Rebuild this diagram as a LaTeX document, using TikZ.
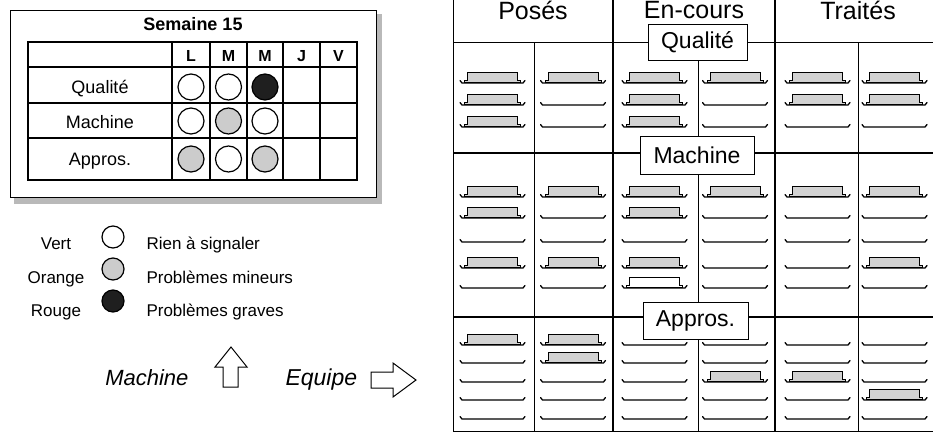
\documentclass[tikz,border=0pt]{standalone}
\usepackage{fontspec}
\setmainfont{Liberation Sans}
\newcommand\mkshelf[3]{\draw[shelfline] (#1,#3-2.5) -- (#1+2,#3) -- (#2-2,#3) -- (#2,#3-2.5);}
\newcommand\mkcard[3][gray!35]{\filldraw[card,fill=#1] (#2-28,#3-1) -- (#2-28,#3-3) -- (#2-25,#3-3) -- (#2-25,#3-11) -- (#2+25,#3-11) -- (#2+25,#3-3) -- (#2+28,#3-3) -- (#2+28,#3-1) -- cycle;}
\tikzset{
  shelfline/.style={line width=1.3pt,line cap=round},
  card/.style={draw,line width=1pt},
  thinline/.style={line width=1pt},
  thickline/.style={line width=1.8pt},
  lbl/.style={font=\fontsize{18}{20}\selectfont,anchor=base},
  leg/.style={font=\fontsize{17}{19}\selectfont,anchor=base},
  hdr/.style={font=\fontsize{25}{28}\selectfont,anchor=base},
  secbox/.style={draw,line width=1pt,fill=white,inner sep=0pt,font=\fontsize{23}{26}\selectfont},
  dot/.style={circle,draw,line width=1.2pt,inner sep=0pt,minimum size=26pt},
  okdot/.style={dot,fill=white},
  middot/.style={dot,fill=gray!40},
  baddot/.style={dot,fill=black!88},
  bigarrow/.style={draw,line width=1pt,fill=white,line join=miter},
}
\begin{document}
\begin{tikzpicture}[x=1pt,y=-1pt]
\useasboundingbox (0,0) rectangle (933,434);
% ---------- left: weekly table ----------
\fill[gray!55] (376,14) rectangle (382,204);
\fill[gray!55] (14,197) rectangle (382,204);
\draw[thinline,fill=white] (10,10) rectangle (376,197);
\node[font=\fontsize{18}{20}\selectfont\bfseries,anchor=base] (week) at (193,30) {Semaine 15};
\draw[line width=1.2pt] (28,42) rectangle (357,180);
\foreach \x in {172,210,247,283,320} {\draw[line width=1.2pt] (\x,42) -- (\x,180);}
\foreach \y in {67,103,138} {\draw[line width=1.2pt] (28,\y) -- (357,\y);}
\foreach \x/\t/\n in {191/L/dL,228.5/M/dM,265/M/dMe,301.5/J/dJ,338.5/V/dV}
  {\node[font=\fontsize{16}{18}\selectfont\bfseries,anchor=base] (\n) at (\x,61) {\t};}
\node[lbl] (rq) at (100,93) {Qualité};
\node[lbl] (rm) at (100,128) {Machine};
\node[lbl] (ra) at (100,165) {Appros.};
\node[okdot]  (q1) at (191,87) {};
\node[okdot]  (q2) at (228.5,87) {};
\node[baddot] (q3) at (265,87) {};
\node[okdot]  (m1) at (191,121) {};
\node[middot] (m2) at (228.5,121) {};
\node[okdot]  (m3) at (265,121) {};
\node[middot] (a1) at (191,159) {};
\node[okdot]  (a2) at (228.5,159) {};
\node[middot] (a3) at (265,159) {};
% ---------- legend ----------
\node[leg] (lv) at (56,249) {Vert};
\node[leg] (lo) at (56,283) {Orange};
\node[leg] (lr) at (56,316) {Rouge};
\node[okdot,minimum size=22pt]  (cv) at (113,237) {};
\node[middot,minimum size=22pt] (co) at (113,269) {};
\node[baddot,minimum size=22pt] (cr) at (113,301) {};
\node[leg,anchor=base west] (tv) at (143,249) {Rien à signaler};
\node[leg,anchor=base west] (to) at (143,283) {Problèmes mineurs};
\node[leg,anchor=base west] (tr) at (143,316) {Problèmes graves};
% ---------- axis arrows ----------
\node[font=\fontsize{22}{25}\selectfont\itshape,anchor=base east] (axm) at (192,385) {Machine};
\draw[bigarrow] (223,387) -- (223,367) -- (215,367) -- (231,347) -- (247,367) -- (238,367) -- (238,387) -- cycle;
\node[font=\fontsize{23}{26}\selectfont\itshape,anchor=base west] (axe) at (282,385) {Equipe};
\draw[bigarrow] (371,372) -- (393,372) -- (393,363) -- (416,380) -- (393,397) -- (393,388) -- (371,388) -- cycle;
% ---------- right: board ----------
\draw[thinline] (453,0) -- (453,431) -- (940,431);
\draw[thinline] (453,42) -- (940,42);
\draw[thickline] (453,153) -- (940,153);
\draw[thickline] (453,317) -- (940,317);
\draw[thickline] (613,0) -- (613,431);
\draw[thickline] (775,0) -- (775,431);
\draw[thinline] (534,42) -- (534,431);
\draw[thinline] (858,42) -- (858,431);
\draw[thinline] (698,60) -- (698,136);
\draw[thinline] (698,174) -- (698,302);
\draw[thinline] (698,339) -- (698,431);
\node[hdr] (hp) at (533,19) {Posés};
\node[hdr] (he) at (694,18) {En-cours};
\node[hdr] (ht) at (858,19) {Traités};
\node[secbox,minimum width=99pt,minimum height=36pt] (bq) at (697.5,42) {Qualité};
\node[secbox,minimum width=114pt,minimum height=38pt] (bm) at (697,155) {Machine};
\node[secbox,minimum width=105pt,minimum height=37pt] (ba) at (695.5,320.5) {Appros.};
% shelves
\foreach \c in {492.5,573,654.5,735,817.5,894.5}{
  \foreach \y in {83,105,127,197,218,242,268,288,345,363,382,400,419}
    {\mkshelf{\c-32.5}{\c+32.5}{\y}}
}
% cards
\foreach \c/\y in {492.5/83,492.5/105,492.5/127,573/83,654.5/83,654.5/105,654.5/127,735/83,817.5/83,817.5/105,894.5/83,894.5/105,
  492.5/197,492.5/218,492.5/268,573/197,573/268,654.5/197,654.5/218,654.5/268,735/197,817.5/197,894.5/197,894.5/268,
  492.5/345,573/345,573/363,735/382,817.5/382,894.5/400}
  {\mkcard{\c}{\y}}
\mkcard[white]{654.5}{288}
\end{tikzpicture}
\end{document}
